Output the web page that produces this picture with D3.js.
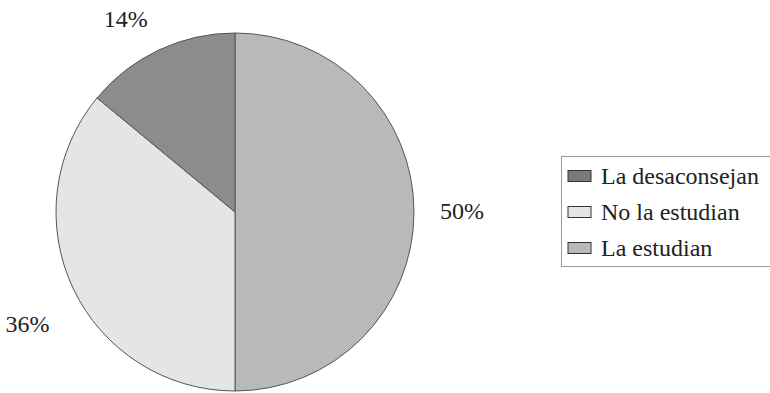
<!DOCTYPE html>
<html><head><meta charset="utf-8">
<script src="https://cdn.jsdelivr.net/npm/d3@7"></script>
<style>body{margin:0;background:#fff}svg{display:block}
text{font-family:"Liberation Serif","Times New Roman",Times,serif}</style>
</head><body>
<script>
const categories = ["La estudian", "No la estudian", "La desaconsejan"];
const values = [50, 36, 14];
const labels = ["50%", "36%", "14%"];
const colors = ["#b9b9b7", "#e5e5e3", "#8c8c8a"];
const legendOrder = ["La desaconsejan", "No la estudian", "La estudian"];

const W = 770, H = 393;
const cx = 235, cy = 212, r = 179;
const svg = d3.select("body").append("svg").attr("width", W).attr("height", H);
const color = d3.scaleOrdinal().domain(categories).range(colors);
const data = categories.map((c, i) => ({cat: c, value: values[i], label: labels[i]}));
const pie = d3.pie().value(d => d.value).sort(null);
const arc = d3.arc().innerRadius(0).outerRadius(r);
const g = svg.append("g").attr("transform", `translate(${cx},${cy})`);
const arcs = pie(data);
g.selectAll("path").data(arcs).join("path")
  .attr("d", arc).attr("fill", d => color(d.data.cat))
  .attr("stroke", "#555").attr("stroke-width", 1);

const labelArc = d3.arc().innerRadius(205).outerRadius(205);
g.selectAll("text").data(arcs).join("text")
  .attr("font-size", 24).attr("fill", "#222")
  .each(function(d) {
    const a = (d.startAngle + d.endAngle) / 2;
    const s = Math.sin(a), c = Math.cos(a);
    const [x, y] = labelArc.centroid(d);
    const t = d3.select(this).attr("x", x).attr("y", y).text(d.data.label);
    t.attr("text-anchor", s > 0.3 ? "start" : s < -0.3 ? "end" : "middle");
    t.attr("dy", c > 0.3 ? "0em" : c < -0.3 ? "1.35em" : "0.3em");
  });

// legend
const lg = svg.append("g");
lg.append("rect").attr("x", 561.5).attr("y", 156.5).attr("width", 230).attr("height", 110)
  .attr("fill", "#fff").attr("stroke", "#999").attr("stroke-width", 1);
const ly = d3.scalePoint().domain(legendOrder).range([176, 248]);
const items = lg.selectAll("g.item").data(legendOrder).join("g").attr("class", "item")
  .attr("transform", d => `translate(568,${ly(d)})`);
items.append("rect").attr("x", 0).attr("y", -5.5).attr("width", 23).attr("height", 11)
  .attr("fill", d => color(d) === "#8c8c8a" ? "#7a7a78" : color(d)).attr("stroke", "#333").attr("stroke-width", 1);
items.append("text").attr("x", 33).attr("y", 8)
  .attr("font-size", 24).attr("fill", "#222").text(d => d);
</script>
</body></html>
